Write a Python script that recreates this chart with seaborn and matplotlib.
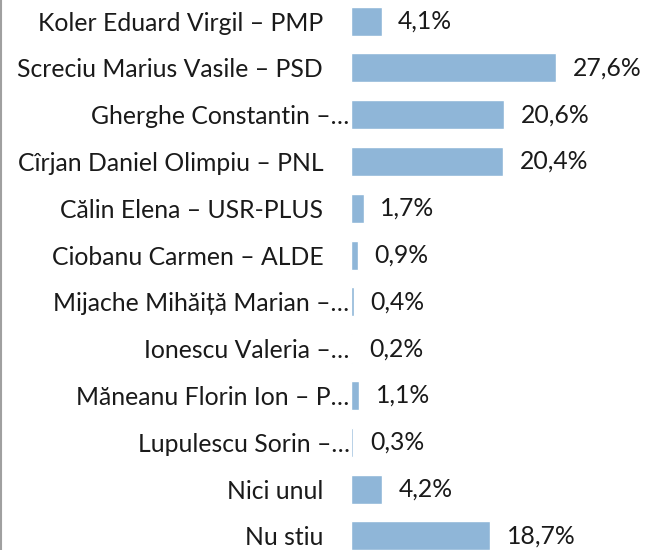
import matplotlib
matplotlib.use("Agg")
import matplotlib.pyplot as plt
import matplotlib.transforms as mtransforms
import pandas as pd
import seaborn as sns

# data
candidates = [
    "Koler Eduard Virgil – PMP",
    "Screciu Marius Vasile – PSD",
    "Gherghe Constantin –…",
    "Cîrjan Daniel Olimpiu – PNL",
    "Călin Elena – USR-PLUS",
    "Ciobanu Carmen – ALDE",
    "Mijache Mihăiță Marian –…",
    "Ionescu Valeria –…",
    "Măneanu Florin Ion – P…",
    "Lupulescu Sorin –…",
    "Nici unul",
    "Nu stiu",
]
percent = [4.1, 27.6, 20.6, 20.4, 1.7, 0.9, 0.4, 0.2, 1.1, 0.3, 4.2, 18.7]

df = pd.DataFrame({"candidat": candidates, "procent": percent})

sns.set_theme(style="white")
plt.rcParams["font.family"] = ["Lato", "DejaVu Sans"]

fig = plt.figure(figsize=(6.45, 5.5), dpi=100)
ax = fig.add_axes([351 / 645, 0, 1 - 351 / 645, 1])

sns.barplot(data=df, x="procent", y="candidat", orient="h",
            color="#8FB6D8", saturation=1, width=0.62, ax=ax)

ax.set_xlim(0, 39.5)
ax.set_ylim(11.30, -0.45)
ax.set_xlabel("")
ax.set_ylabel("")
ax.set_xticks([])
sns.despine(ax=ax, left=True, bottom=True)
ax.tick_params(axis="y", length=0, pad=20, labelsize=17.8, labelcolor="#1a1a1a")

# truncated labels sit right against the bars
for lab in ax.get_yticklabels():
    if lab.get_text().endswith("…"):
        lab.set_transform(lab.get_transform() + mtransforms.ScaledTranslation(19 / 72, 0, fig.dpi_scale_trans))

for p, v in zip(ax.patches, percent):
    ax.annotate(f"{v:.1f}%".replace(".", ","),
                (p.get_width(), p.get_y() + p.get_height() / 2),
                xytext=(12, 0), textcoords="offset points",
                va="center", ha="left", fontsize=17.8, color="#1a1a1a")

# thin grey frame line on the left edge
fig.add_artist(plt.Line2D([0.0015, 0.0015], [0, 1], transform=fig.transFigure,
                          color="#a0a0a0", lw=1.5))

fig.savefig("out.png", dpi=100)
